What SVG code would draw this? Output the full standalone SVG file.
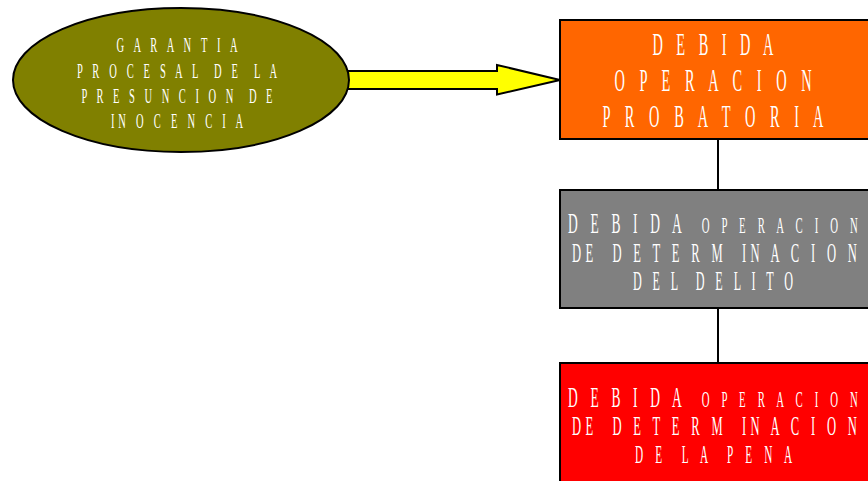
<svg xmlns="http://www.w3.org/2000/svg" width="868" height="481" viewBox="0 0 868 481">
<style>
.t{font-family:"Liberation Serif","Times New Roman",serif;fill:#fff;text-anchor:middle;white-space:pre}
.box{stroke:#000;stroke-width:2}
.ln{stroke:#000;stroke-width:2;fill:none}
</style>
<rect width="868" height="481" fill="#fff"/>
<g id="connectors">
<polygon points="338,71 497,71 497,65 560,80 497,94.5 497,89 338,89" fill="#ffff00" stroke="#000" stroke-width="2" stroke-linejoin="miter"/>
<line class="ln" x1="718" y1="139" x2="718" y2="190"/>
<line class="ln" x1="718" y1="308" x2="718" y2="363"/>
</g>
<g id="garantia">
<ellipse cx="181" cy="80" rx="168" ry="72" fill="#808000" stroke="#000" stroke-width="2"/>
<text class="t" xml:space="preserve" font-size="21" transform="translate(177,52) scale(0.5,1)" textLength="242" lengthAdjust="spacing">G A R A N T I A</text>
<text class="t" xml:space="preserve" font-size="21" transform="translate(177,78) scale(0.5,1)" textLength="400" lengthAdjust="spacing">P R O C E S A L  D E  L A</text>
<text class="t" xml:space="preserve" font-size="21" transform="translate(177,103) scale(0.5,1)" textLength="382" lengthAdjust="spacing">P R E S U N C I O N  D E</text>
<text class="t" xml:space="preserve" font-size="21" transform="translate(177,128) scale(0.5,1)" textLength="264" lengthAdjust="spacing">IN O C E N C I A</text>
</g>
<g id="probatoria">
<rect class="box" x="560" y="20" width="316" height="119" fill="#ff6600"/>
<text class="t" xml:space="preserve" font-size="32" transform="translate(713,55) scale(0.45,1)" textLength="269" lengthAdjust="spacing">D E B I D A</text>
<text class="t" xml:space="preserve" font-size="32" transform="translate(713,91) scale(0.45,1)" textLength="438" lengthAdjust="spacing">O P E R A C I O N</text>
<text class="t" xml:space="preserve" font-size="32" transform="translate(713,127) scale(0.45,1)" textLength="491" lengthAdjust="spacing">P R O B A T O R I A</text>
</g>
<g id="delito">
<rect class="box" x="560" y="190" width="316" height="118" fill="#808080"/>
<text class="t" xml:space="preserve" font-size="24" transform="translate(713,233) scale(0.45,1)" textLength="644" lengthAdjust="spacing"><tspan font-size="30">D E B I D A  </tspan>O P E R A C I O N</text>
<text class="t" xml:space="preserve" font-size="28" transform="translate(714.5,262) scale(0.45,1)" textLength="633" lengthAdjust="spacing">DE  D E T E R M  IN A C I O N</text>
<text class="t" xml:space="preserve" font-size="27" transform="translate(713,290) scale(0.45,1)" textLength="356" lengthAdjust="spacing">D E L  D E L I T O</text>
</g>
<g id="pena">
<rect class="box" x="560" y="363" width="316" height="130" fill="#ff0000"/>
<text class="t" xml:space="preserve" font-size="24" transform="translate(713,407) scale(0.45,1)" textLength="644" lengthAdjust="spacing"><tspan font-size="30">D E B I D A  </tspan>O P E R A C I O N</text>
<text class="t" xml:space="preserve" font-size="28" transform="translate(714.5,435) scale(0.45,1)" textLength="633" lengthAdjust="spacing">DE  D E T E R M  IN A C I O N</text>
<text class="t" xml:space="preserve" font-size="25" transform="translate(713.5,463) scale(0.45,1)" textLength="349" lengthAdjust="spacing">D E  L A  P E N A</text>
</g>
</svg>
